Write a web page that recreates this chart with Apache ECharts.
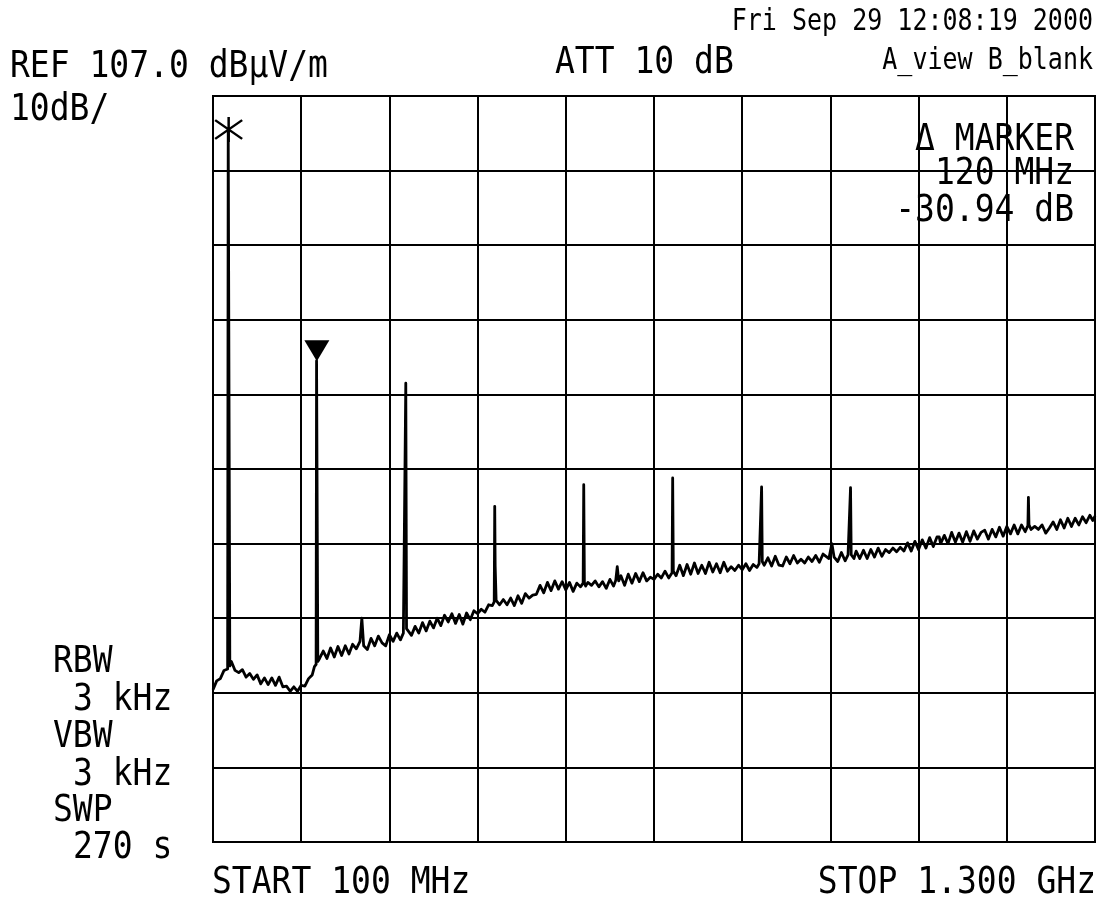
<!DOCTYPE html>
<html>
<head>
<meta charset="utf-8">
<script src="https://cdn.jsdelivr.net/npm/echarts@6/dist/echarts.min.js"></script>
<style>
html,body{margin:0;padding:0;background:#fff;}
#chart{width:1104px;height:907px;}
</style>
</head>
<body>
<div id="chart"></div>
<script>
// ---- Data (frequency in MHz, level in dBµV/m) ----
const freqMHz = [
  100,105,110,115,119.9,120.7,122.0,122.9,125,130,
  135,140,145,150,155,160,165,170,175,180,
  185,190,195,200,205,210,215,220,225,230,
  235,238,240.3,240.9,241.9,242.6,245,250,255,260,
  265,270,275,280,285,290,295,300,302.5,305,
  310,315,320,325,330,335,340,345,350,355,
  359,361.5,362.3,363.3,365,370,375,380,385,390,
  395,400,405,410,415,420,425,430,435,440,
  445,450,455,460,465,470,475,480,482.6,483.3,
  483.9,484.4,485.2,490,495,500,505,510,515,520,
  525,530,535,540,545,550,555,560,565,570,
  575,580,585,590,595,600,603.6,604.4,605.3,607,
  610,615,620,625,630,635,640,645,648,650,
  652,655,660,665,670,675,680,685,690,695,
  700,705,710,715,720,724.6,725.4,726.3,730,735,
  740,745,750,755,760,765,770,775,780,785,
  790,795,800,805,810,815,820,825,830,835,
  840,843,845.6,846.4,847.3,850,855,860,865,870,
  875,880,885,890,895,900,905,910,915,920,
  925,930,938,942,945,950,955,960,964,966.6,
  967.4,968.3,972,975,980,985,990,995,1000,1005,
  1010,1015,1020,1025,1030,1035,1040,1045,1050,1055,
  1060,1065,1070,1075,1080,1085,1088,1090,1095,1100,
  1105,1110,1115,1120,1125,1130,1135,1140,1145,1150,
  1155,1160,1165,1170,1175,1180,1185,1190,1195,1200,
  1205,1208.7,1209.4,1210.2,1213,1218,1223,1228,1233,1238,
  1243,1248,1253,1258,1263,1268,1273,1278,1283,1288,
  1293,1297,1300
];
const levelDbuV = [
  27.4,28.6,28.9,30.0,30.2,102.5,102.5,30.6,31.2,30.0,
  29.7,30.1,29.1,29.6,28.8,29.4,28.2,29.0,28.1,29.0,
  28.0,29.1,27.8,27.9,27.2,27.8,27.2,28.0,27.9,28.9,
  29.4,30.5,30.8,71.5,71.5,31.2,31.6,32.6,31.6,33.0,
  31.8,33.2,32.0,33.3,32.2,33.5,32.9,33.9,37.0,33.3,
  32.8,34.3,33.3,34.6,33.7,33.3,34.8,33.9,35.0,34.1,
  35.0,35.0,68.5,35.6,35.8,34.7,35.9,35.0,36.4,35.3,
  36.6,35.7,37.0,36.0,37.4,36.5,37.6,36.3,37.5,36.2,
  37.7,36.8,38.0,37.6,38.2,37.8,38.8,38.7,39.2,52.0,
  44.0,44.0,39.4,38.8,39.5,38.8,39.7,38.7,40.0,39.0,
  40.3,39.7,40.1,40.2,41.4,40.4,41.8,40.7,42.0,40.9,
  41.9,40.8,41.8,40.6,41.7,41.2,41.7,54.9,41.8,41.3,
  41.8,41.4,42.0,41.2,41.9,41.0,42.2,41.3,42.1,43.9,
  42.0,42.7,41.4,42.9,41.7,43.0,41.9,43.1,42.0,42.5,
  42.2,42.9,42.4,43.3,42.4,43.1,55.8,43.3,42.7,44.1,
  42.7,44.2,42.9,44.4,43.0,44.1,43.0,44.5,43.2,44.3,
  43.1,44.5,43.3,43.9,43.4,44.1,43.5,44.3,43.4,44.2,
  43.8,44.3,44.5,54.6,44.6,44.1,45.1,44.0,45.3,44.1,
  44.0,45.2,44.3,45.4,44.4,44.9,44.4,45.2,44.6,45.4,
  44.5,45.6,45.0,47.0,45.2,44.6,45.8,44.7,45.5,45.6,
  54.5,45.5,45.0,46.0,45.0,46.1,45.0,46.2,45.2,46.4,
  45.3,46.2,45.8,46.4,45.9,46.5,46.0,47.1,46.0,47.3,
  46.2,47.5,46.4,47.8,46.6,47.9,47.9,47.0,48.1,47.0,
  48.5,47.2,48.4,47.2,48.6,47.3,48.7,47.6,48.5,48.8,
  47.6,48.9,47.9,49.2,48.0,49.3,48.3,49.5,48.3,49.5,
  48.6,49.4,53.2,49.5,48.9,49.3,48.9,49.5,48.4,49.1,
  49.9,48.9,50.2,49.1,50.4,49.3,50.4,49.5,50.6,49.8,
  50.8,50.1,50.7
];
// Markers: reference marker (*) and delta marker (triangle)
const refMarker = [121.3, 102.5];
const deltaMarker = [241.3, 71.5];

// Axis settings
const startMHz = 100, stopMHz = 1300;
const refLevel = 107.0, dbPerDiv = 10, divisions = 10;

// Annotation texts
const headerTexts = ['REF 107.0 dBµV/m', '10dB/', 'ATT 10 dB', 'Fri Sep 29 12:08:19 2000', 'A_view B_blank'];
const markerTexts = ['Δ MARKER', '120 MHz', '-30.94 dB'];
const bwTexts = ['RBW', '3 kHz', 'VBW', '3 kHz', 'SWP', '270 s'];
const footerTexts = ['START 100 MHz', 'STOP 1.300 GHz'];

const FONT = '"DejaVu Sans Mono", "Liberation Mono", monospace';
function txt(s, x, y, size, align, sy) {
  return {
    type: 'text', x: x, y: y, scaleY: sy, z: 100,
    style: {
      text: s, font: size + 'px ' + FONT, fill: '#000',
      textAlign: align, align: align,
      textVerticalAlign: 'middle', verticalAlign: 'middle'
    }
  };
}

const BIG = 33, SMALL = 25, SY = 1.13, SYS = 1.2;
const graphics = [
  txt(headerTexts[0], 10, 67, BIG, 'left', SY),
  txt(headerTexts[1], 10, 110, BIG, 'left', SY),
  txt(headerTexts[2], 555, 63, BIG, 'left', SY),
  txt(headerTexts[3], 1093, 22, SMALL, 'right', SYS),
  txt(headerTexts[4], 1093, 61, SMALL, 'right', SYS),
  txt(markerTexts[0], 1074, 140, BIG, 'right', SY),
  txt(markerTexts[1], 1074, 174, BIG, 'right', SY),
  txt(markerTexts[2], 1074, 211, BIG, 'right', SY),
  txt(bwTexts[0], 53, 662, BIG, 'left', SY),
  txt(bwTexts[1], 73, 700, BIG, 'left', SY),
  txt(bwTexts[2], 53, 737, BIG, 'left', SY),
  txt(bwTexts[3], 73, 775, BIG, 'left', SY),
  txt(bwTexts[4], 53, 811, BIG, 'left', SY),
  txt(bwTexts[5], 73, 848, BIG, 'left', SY),
  txt(footerTexts[0], 212, 883, BIG, 'left', SY),
  txt(footerTexts[1], 1096, 883, BIG, 'right', SY)
];

const trace = freqMHz.map((f, i) => [f, levelDbuV[i]]);

const chart = echarts.init(document.getElementById('chart'), null, {renderer: 'canvas'});
chart.setOption({
  animation: false,
  backgroundColor: '#fff',
  grid: {left: 213, top: 96, width: 882, height: 746, show: true,
         borderColor: '#000', borderWidth: 2, backgroundColor: 'transparent'},
  xAxis: [
    {type: 'value', min: startMHz, max: stopMHz, show: false},
    {type: 'value', min: 0, max: divisions, interval: 1,
     axisLine: {show: false}, axisTick: {show: false}, axisLabel: {show: false},
     splitLine: {show: true, lineStyle: {color: '#000', width: 2}}}
  ],
  yAxis: [
    {type: 'value', min: refLevel - dbPerDiv * divisions, max: refLevel, show: false},
    {type: 'value', min: 0, max: divisions, interval: 1,
     axisLine: {show: false}, axisTick: {show: false}, axisLabel: {show: false},
     splitLine: {show: true, lineStyle: {color: '#000', width: 2}}}
  ],
  series: [
    {type: 'line', xAxisIndex: 0, yAxisIndex: 0, data: trace,
     showSymbol: false, symbol: 'none', silent: true,
     lineStyle: {color: '#000', width: 2.8, join: 'round'}, z: 5},
    {type: 'scatter', xAxisIndex: 0, yAxisIndex: 0, data: [deltaMarker],
     symbol: 'triangle', symbolRotate: 180, symbolSize: [25, 21], symbolOffset: [0, -10],
     itemStyle: {color: '#000', opacity: 1}, z: 6, silent: true},
    {type: 'scatter', xAxisIndex: 0, yAxisIndex: 0, data: [refMarker],
     symbol: 'path://M13,0L13,24M0,3L26,21M0,21L26,3', symbolSize: [27, 25],
     itemStyle: {color: 'none', borderColor: '#000', borderWidth: 2.4, opacity: 1},
     z: 6, silent: true}
  ],
  graphic: graphics
});
</script>
</body>
</html>
